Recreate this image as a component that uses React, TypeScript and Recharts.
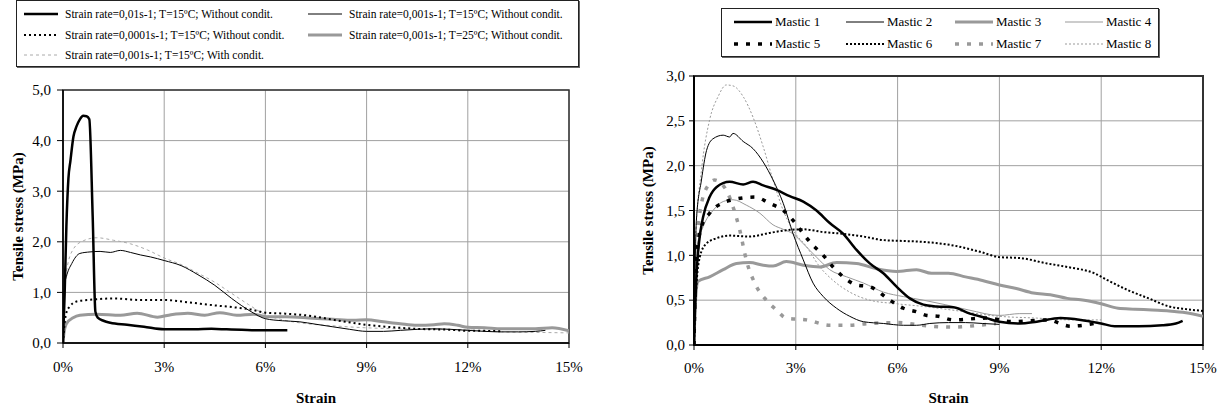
import React from 'react';
import { LineChart, Line, XAxis, YAxis, CartesianGrid, ReferenceArea } from 'recharts';

const font = "'Liberation Serif', 'Times New Roman', serif";

// axes
const strainTicks = [0, 3, 6, 9, 12, 15];
const leftStressTicks = [0, 1, 2, 3, 4, 5];
const rightStressTicks = [0, 0.5, 1, 1.5, 2, 2.5, 3];

// left chart: [strain %, stress MPa]
const rate01At15 = [
  [0, 0], [0.05, 1.0], [0.1, 2.3], [0.16, 3.25], [0.22, 3.6], [0.31, 4.08], [0.4, 4.28], [0.5, 4.42],
  [0.6, 4.49], [0.7, 4.48], [0.78, 4.42], [0.88, 2.5], [0.96, 0.62], [1.03, 0.5], [1.2, 0.44], [1.4, 0.4],
  [1.9, 0.36], [2.4, 0.32], [3.0, 0.27], [3.5, 0.27], [3.9, 0.27], [4.4, 0.28], [4.85, 0.27], [5.3, 0.26],
  [5.85, 0.25], [6.3, 0.25], [6.65, 0.25],
];
const rate001At15 = [
  [0, 0], [0.03, 0.9], [0.06, 1.19], [0.1, 1.31], [0.26, 1.57], [0.5, 1.77], [0.8, 1.8], [1.1, 1.81],
  [1.4, 1.79], [1.7, 1.83], [2.0, 1.79], [2.3, 1.74], [2.6, 1.7], [3.0, 1.63], [3.5, 1.53], [4.0, 1.35],
  [4.5, 1.14], [5.0, 0.88], [5.6, 0.61], [6.0, 0.48], [6.5, 0.44], [7.0, 0.42], [7.5, 0.37], [8.0, 0.32],
  [8.5, 0.27], [9.0, 0.23], [9.5, 0.23], [10.0, 0.25], [10.5, 0.27], [11.0, 0.28], [11.5, 0.27], [12.0, 0.25],
  [12.5, 0.23], [13.0, 0.22], [13.5, 0.22], [14.0, 0.23], [14.3, 0.25],
];
const rate0001At15 = [
  [0, 0], [0.05, 0.4], [0.1, 0.6], [0.2, 0.72], [0.4, 0.82], [0.9, 0.86], [1.5, 0.88], [2.3, 0.85],
  [3.0, 0.85], [3.76, 0.8], [4.4, 0.75], [5.0, 0.71], [5.6, 0.66], [6.0, 0.6], [6.6, 0.58], [7.4, 0.53],
  [8.0, 0.46], [9.0, 0.36], [10.0, 0.3], [10.5, 0.28], [11.5, 0.26], [12.0, 0.24], [12.5, 0.24], [13.0, 0.23],
];
const rate001At25 = [
  [0, 0], [0.03, 0.2], [0.1, 0.38], [0.3, 0.5], [0.5, 0.55], [1.0, 0.57], [1.7, 0.55], [2.2, 0.59],
  [2.8, 0.51], [3.2, 0.56], [3.7, 0.59], [4.2, 0.55], [4.65, 0.6], [5.15, 0.55], [5.65, 0.57], [6.05, 0.52],
  [6.6, 0.52], [7.4, 0.49], [8.0, 0.47], [8.6, 0.45], [9.0, 0.46], [9.5, 0.42], [10.0, 0.38], [10.5, 0.35],
  [11.0, 0.36], [11.3, 0.38], [11.7, 0.35], [12.0, 0.31], [12.5, 0.3], [13.0, 0.28], [13.5, 0.28], [14.0, 0.28],
  [14.5, 0.3], [15.0, 0.24],
];
const rate001At15Cond = [
  [0, 0], [0.03, 0.8], [0.1, 1.4], [0.3, 1.85], [0.6, 2.02], [1.0, 2.08], [1.5, 2.03], [2.0, 1.96],
  [2.5, 1.84], [3.0, 1.68], [3.5, 1.55], [4.0, 1.38], [4.5, 1.2], [5.0, 0.98], [5.5, 0.76], [6.0, 0.56],
  [6.5, 0.46], [7.0, 0.4], [8.0, 0.34], [9.0, 0.3], [10.0, 0.28], [11.0, 0.27], [12.0, 0.26], [13.0, 0.22],
  [14.0, 0.21], [15.0, 0.2],
];

// right chart: [strain %, stress MPa]
const mastic1 = [
  [0, 0], [0.03, 0.4], [0.07, 0.76], [0.15, 1.15], [0.27, 1.43], [0.46, 1.65], [0.66, 1.76], [1.05, 1.82],
  [1.45, 1.79], [1.74, 1.82], [2.04, 1.78], [2.43, 1.73], [2.82, 1.66], [3.22, 1.6], [3.61, 1.5], [4.0, 1.36],
  [4.4, 1.24], [4.79, 1.06], [5.18, 0.91], [5.58, 0.8], [5.97, 0.65], [6.36, 0.52], [6.76, 0.45], [7.15, 0.43],
  [7.64, 0.42], [8.13, 0.35], [8.62, 0.3], [9.0, 0.26], [9.6, 0.24], [10.1, 0.26], [10.8, 0.3], [11.4, 0.28],
  [12.0, 0.24], [12.4, 0.21], [13.1, 0.21], [13.8, 0.22], [14.2, 0.24], [14.4, 0.27],
];
const mastic2 = [
  [0, 0], [0.03, 0.8], [0.07, 1.39], [0.22, 1.84], [0.37, 2.17], [0.56, 2.3], [0.86, 2.34], [1.05, 2.32],
  [1.15, 2.36], [1.45, 2.27], [1.74, 2.19], [2.04, 2.04], [2.33, 1.84], [2.63, 1.58], [2.92, 1.24], [3.22, 0.95],
  [3.51, 0.69], [3.81, 0.54], [4.2, 0.41], [4.59, 0.32], [4.99, 0.26], [5.58, 0.24], [6.17, 0.22], [6.56, 0.22],
  [6.95, 0.24], [7.5, 0.25], [8.0, 0.25], [8.5, 0.24], [9.0, 0.23],
];
const mastic3 = [
  [0, 0], [0.04, 0.46], [0.12, 0.71], [0.46, 0.76], [0.86, 0.84], [1.25, 0.91], [1.64, 0.92], [2.04, 0.89],
  [2.33, 0.88], [2.72, 0.93], [3.22, 0.89], [3.71, 0.87], [4.2, 0.92], [4.79, 0.91], [5.38, 0.85], [5.97, 0.82],
  [6.56, 0.84], [7.0, 0.8], [7.5, 0.8], [8.0, 0.76], [8.5, 0.72], [9.0, 0.67], [9.5, 0.63], [10.0, 0.58],
  [10.5, 0.56], [11.0, 0.52], [11.5, 0.5], [12.0, 0.46], [12.5, 0.41], [13.0, 0.4], [13.5, 0.39], [14.0, 0.38],
  [14.5, 0.36], [15.0, 0.32],
];
const mastic4 = [
  [0, 0], [0.03, 0.6], [0.07, 1.06], [0.27, 1.32], [0.56, 1.5], [0.86, 1.6], [1.15, 1.62], [1.54, 1.56],
  [1.94, 1.47], [2.33, 1.34], [2.63, 1.29], [2.92, 1.24], [3.22, 1.13], [3.61, 0.98], [4.0, 0.84], [4.5, 0.76],
  [5.0, 0.69], [5.58, 0.59], [6.17, 0.54], [6.76, 0.5], [7.4, 0.45], [8.1, 0.39], [9.0, 0.33], [9.6, 0.35],
  [9.96, 0.35],
];
const mastic5 = [
  [0, 0], [0.05, 0.84], [0.22, 1.32], [0.46, 1.47], [0.81, 1.58], [1.15, 1.62], [1.79, 1.65], [2.23, 1.58],
  [2.63, 1.5], [2.92, 1.39], [3.2, 1.25], [3.46, 1.13], [3.81, 1.0], [4.1, 0.87], [4.4, 0.76], [4.79, 0.67],
  [5.18, 0.65], [5.77, 0.5], [6.17, 0.41], [6.56, 0.37], [6.86, 0.33], [7.2, 0.32], [7.64, 0.28], [8.6, 0.3],
  [9.4, 0.26], [10.4, 0.28], [11.1, 0.21], [11.8, 0.24],
];
const mastic6 = [
  [0, 0], [0.04, 0.46], [0.17, 0.98], [0.36, 1.13], [0.66, 1.19], [1.05, 1.22], [1.64, 1.21], [2.23, 1.25],
  [2.72, 1.28], [3.22, 1.29], [3.81, 1.26], [4.4, 1.24], [4.99, 1.21], [5.58, 1.17], [6.17, 1.16], [6.76, 1.15],
  [7.64, 1.11], [8.43, 1.04], [9.0, 0.98], [9.6, 0.97], [10.4, 0.91], [11.0, 0.87], [11.8, 0.8], [12.2, 0.72],
  [12.8, 0.61], [13.4, 0.52], [14.0, 0.43], [14.5, 0.4], [15.0, 0.38],
];
const mastic7 = [
  [0, 0], [0.05, 0.84], [0.22, 1.58], [0.46, 1.8], [0.61, 1.84], [0.81, 1.8], [1.0, 1.69], [1.15, 1.54],
  [1.35, 1.28], [1.54, 0.95], [1.79, 0.69], [2.13, 0.5], [2.43, 0.39], [2.72, 0.3], [3.32, 0.28], [4.0, 0.22],
  [4.5, 0.22], [5.18, 0.24], [5.97, 0.25], [6.95, 0.21], [7.64, 0.2], [8.4, 0.22], [8.9, 0.24],
];
const mastic8 = [
  [0, 0], [0.05, 1.2], [0.22, 1.95], [0.46, 2.51], [0.71, 2.77], [0.95, 2.9], [1.15, 2.89], [1.45, 2.77],
  [1.74, 2.54], [2.04, 2.21], [2.33, 1.84], [2.63, 1.5], [2.92, 1.28], [3.31, 1.1], [3.71, 0.87], [4.1, 0.72],
  [4.59, 0.59], [5.18, 0.5], [5.97, 0.46], [6.76, 0.43], [7.6, 0.39], [9.0, 0.32], [10.1, 0.3], [11.1, 0.28],
  [12.0, 0.28],
];

type Series = { name: string; points: number[][]; color: string; width: number; dash?: string };

const leftSeries: Series[] = [
  { name: 'Strain rate=0,01s-1; T=15ºC; Without condit.', points: rate01At15, color: '#000', width: 2.5 },
  { name: 'Strain rate=0,001s-1; T=15ºC; Without condit.', points: rate001At15, color: '#000', width: 1 },
  { name: 'Strain rate=0,0001s-1; T=15ºC; Without condit.', points: rate0001At15, color: '#000', width: 2, dash: '2 3' },
  { name: 'Strain rate=0,001s-1; T=25ºC; Without condit.', points: rate001At25, color: '#999', width: 3 },
  { name: 'Strain rate=0,001s-1; T=15ºC; With condit.', points: rate001At15Cond, color: '#aaa', width: 1, dash: '3 3' },
];

const rightSeries: Series[] = [
  { name: 'Mastic 1', points: mastic1, color: '#000', width: 2.5 },
  { name: 'Mastic 2', points: mastic2, color: '#000', width: 1 },
  { name: 'Mastic 3', points: mastic3, color: '#999', width: 3 },
  { name: 'Mastic 4', points: mastic4, color: '#999', width: 1 },
  { name: 'Mastic 5', points: mastic5, color: '#000', width: 3.5, dash: '4 8' },
  { name: 'Mastic 6', points: mastic6, color: '#000', width: 2, dash: '2 2' },
  { name: 'Mastic 7', points: mastic7, color: '#999', width: 3.5, dash: '4 8' },
  { name: 'Mastic 8', points: mastic8, color: '#999', width: 1, dash: '2 2' },
];

const toRows = (pts: number[][]) => pts.map(([strain, stress]) => ({ strain, stress }));
const comma = (v: number) => v.toFixed(1).replace('.', ',');
const pct = (v: number) => `${v}%`;

const tickStyle = { fill: '#000', fontSize: 15, fontFamily: font };
const titleStyle = { fill: '#000', fontSize: 15, fontFamily: font, fontWeight: 'bold' as const };

interface PanelProps {
  left: number;
  width: number;
  top: number;
  bottom: number;
  axisWidth: number;
  rightGap: number;
  yMax: number;
  yTicks: number[];
  series: Series[];
  drawOrder: number[];
  labelOffset: number;
  yTickSize: number;
  yTickMargin: number;
  xTickMargin: number;
  lineWeight: number;
}

const StressPanel: React.FC<PanelProps> = (p) => (
  <div style={{ position: 'absolute', left: p.left, top: 0, fontFamily: font }}>
    <LineChart width={p.width} height={409} margin={{ top: p.top, right: p.rightGap, bottom: 0, left: 0 }}>
      <CartesianGrid stroke="#a0a0a0" />
      <ReferenceArea x1={0} x2={15} y1={0} y2={p.yMax} fill="none" stroke="#333" strokeWidth={p.lineWeight} ifOverflow="visible" />
      <XAxis
        type="number"
        dataKey="strain"
        domain={[0, 15]}
        ticks={strainTicks}
        interval={0}
        allowDataOverflow
        tickFormatter={pct}
        tick={tickStyle}
        tickSize={5}
        tickMargin={p.xTickMargin}
        height={409 - p.bottom}
        axisLine={{ stroke: '#000', strokeWidth: p.lineWeight }}
        tickLine={{ stroke: '#000' }}
        label={{ value: 'Strain', position: 'insideBottom', offset: 6, style: titleStyle }}
      />
      <YAxis
        type="number"
        domain={[0, p.yMax]}
        ticks={p.yTicks}
        interval={0}
        allowDataOverflow
        tickFormatter={comma}
        tick={tickStyle}
        tickSize={p.yTickSize}
        tickMargin={p.yTickMargin}
        width={p.axisWidth}
        axisLine={{ stroke: '#000', strokeWidth: p.lineWeight }}
        tickLine={{ stroke: '#000' }}
        label={{
          value: 'Tensile stress (MPa)',
          angle: -90,
          position: 'insideLeft',
          offset: p.labelOffset,
          style: { ...titleStyle, textAnchor: 'middle' },
        }}
      />
      {p.drawOrder.map((i) => {
        const s = p.series[i];
        return (
          <Line
            key={s.name}
            data={toRows(s.points)}
            dataKey="stress"
            name={s.name}
            type="monotone"
            stroke={s.color}
            strokeWidth={s.width}
            strokeDasharray={s.dash}
            dot={false}
            activeDot={false}
            isAnimationActive={false}
          />
        );
      })}
    </LineChart>
  </div>
);

interface LegendProps {
  series: Series[];
  left: number;
  top: number;
  width: number;
  height: number;
  columns: string;
  padLeft: number;
  padTop: number;
  rowHeight: number;
  sample: number;
  gap: number;
  fontSize: number;
}

const LegendBox: React.FC<LegendProps> = (p) => (
  <div
    style={{
      position: 'absolute',
      left: p.left,
      top: p.top,
      width: p.width,
      height: p.height,
      boxSizing: 'border-box',
      border: '1px solid #222',
      boxShadow: '1px 1px 0 #666',
      background: '#fff',
      paddingLeft: p.padLeft,
      paddingTop: p.padTop,
      display: 'grid',
      gridTemplateColumns: p.columns,
      gridAutoRows: p.rowHeight,
      fontFamily: font,
      fontSize: p.fontSize,
      color: '#000',
    }}
  >
    {p.series.map((s) => (
      <div key={s.name} style={{ display: 'flex', alignItems: 'center', whiteSpace: 'nowrap' }}>
        <svg width={p.sample} height={8} style={{ marginRight: p.gap, flex: 'none' }}>
          <line x1={0} y1={4} x2={p.sample} y2={4} stroke={s.color} strokeWidth={s.width} strokeDasharray={s.dash} />
        </svg>
        <span>{s.name}</span>
      </div>
    ))}
  </div>
);

export default function App() {
  return (
    <div style={{ position: 'absolute', left: 0, top: 0, width: 1225, height: 409, background: '#fff', fontFamily: font }}>
      <StressPanel
        left={0}
        width={612}
        top={90}
        bottom={343}
        axisWidth={63}
        rightGap={43}
        yMax={5}
        yTicks={leftStressTicks}
        series={leftSeries}
        drawOrder={[4, 3, 2, 1, 0]}
        labelOffset={18}
        yTickSize={6}
        yTickMargin={6}
        xTickMargin={13}
        lineWeight={1.5}
      />
      <StressPanel
        left={612}
        width={613}
        top={76}
        bottom={345}
        axisWidth={82}
        rightGap={22}
        yMax={3}
        yTicks={rightStressTicks}
        series={rightSeries}
        drawOrder={[7, 6, 3, 2, 5, 4, 1, 0]}
        labelOffset={36}
        yTickSize={5}
        yTickMargin={4}
        xTickMargin={12}
        lineWeight={2}
      />
      <LegendBox
        series={leftSeries}
        left={16}
        top={0}
        width={563}
        height={67}
        columns="284px 1fr"
        padLeft={7}
        padTop={3}
        rowHeight={20.5}
        sample={34}
        gap={7}
        fontSize={11.5}
      />
      <LegendBox
        series={rightSeries}
        left={721}
        top={8}
        width={438}
        height={49}
        columns="112px 109px 110px 1fr"
        padLeft={12}
        padTop={2}
        rowHeight={22}
        sample={38}
        gap={3}
        fontSize={13}
      />
    </div>
  );
}
